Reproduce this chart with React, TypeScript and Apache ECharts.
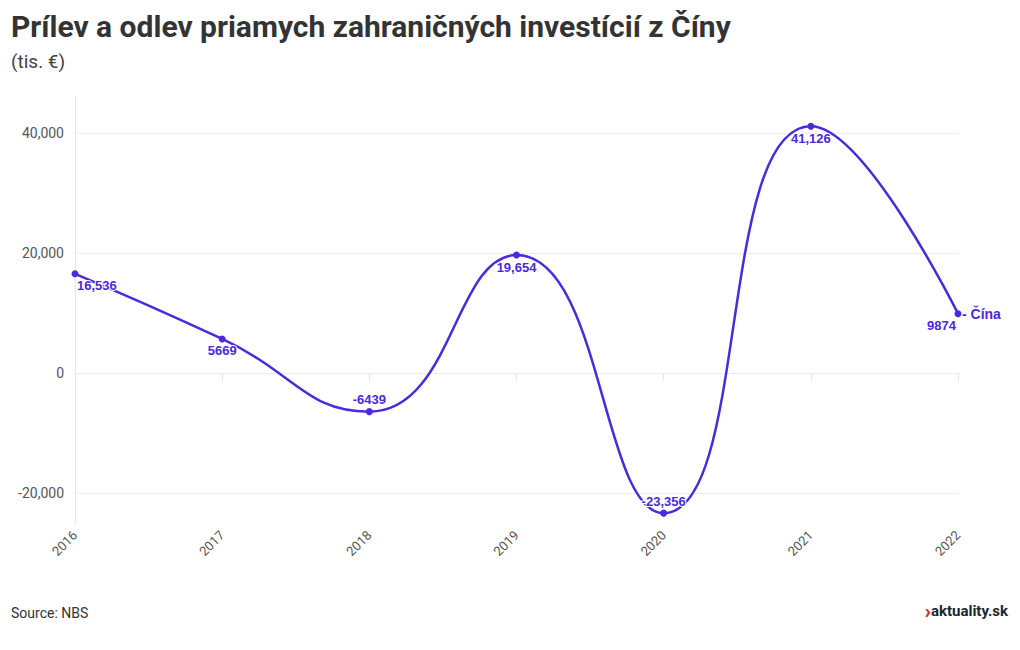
import React, { useEffect, useRef } from "react";
import * as echarts from "echarts";

const years = ["2016", "2017", "2018", "2019", "2020", "2021", "2022"];
const values = [16536, 5669, -6439, 19654, -23356, 41126, 9874];
const labelPositions = ["bottom", "bottom", "top", "bottom", "top", "bottom", "bottom"];
const labelAligns = ["left", "center", "center", "center", "center", "center", "right"];
const yTicks = [-20000, 0, 20000, 40000];
const seriesName = "Čína";

const COLOR = "#4a2adb";

export default function App() {
  const ref = useRef<HTMLDivElement>(null);
  useEffect(() => {
    document.body.style.margin = "0";
    const chart = echarts.init(ref.current!, null, { renderer: "svg" });
    const fmt = (v: number) => (Math.abs(v) >= 10000 ? v.toLocaleString("en-US") : String(v));
    chart.setOption({
      animation: false,
      backgroundColor: "#ffffff",
      title: [
        {
          text: "Prílev a odlev priamych zahraničných investícií z Číny",
          left: 6,
          top: 6,
          padding: 5,
          textStyle: { fontFamily: "Roboto", fontWeight: 700, fontSize: 30, color: "#333333" },
        },
        {
          text: "(tis. €)",
          left: 6,
          top: 47,
          padding: 5,
          textStyle: { fontFamily: "Roboto", fontWeight: 400, fontSize: 19, color: "#444444" },
        },
      ],
      grid: { left: 75, right: 62, top: 97, bottom: 127, containLabel: false },
      xAxis: {
        type: "category",
        data: years,
        boundaryGap: false,
        axisLine: { show: true, lineStyle: { color: "#e6e6e6" } },
        axisTick: { show: true, length: 8, lineStyle: { color: "#e6e6e6" } },
        axisLabel: { rotate: 45, fontSize: 13, color: "#555555", fontFamily: "Roboto", margin: 10 },
        splitLine: { show: false },
      },
      yAxis: {
        type: "value",
        min: -25000,
        max: 46000,
        axisLine: { show: true, lineStyle: { color: "#e6e6e6" } },
        axisTick: { show: false },
        splitLine: { show: false },
        axisLabel: {
          customValues: yTicks,
          fontSize: 14,
          color: "#555555",
          fontFamily: "Roboto",
          margin: 11,
          formatter: (v: number) => v.toLocaleString("en-US"),
        },
      },
      series: [
        {
          name: seriesName,
          type: "line",
          smooth: 0.5,
          data: values.map((v, i) => ({
            value: v,
            label: {
              position: labelPositions[i],
              align: labelAligns[i],
              offset: labelAligns[i] === "left" ? [2, 0] : labelAligns[i] === "right" ? [-2, 0] : [0, 0],
            },
          })),
          symbol: "circle",
          symbolSize: 7,
          itemStyle: { color: COLOR },
          lineStyle: { color: COLOR, width: 2.5 },
          label: {
            show: true,
            color: COLOR,
            fontSize: 13,
            fontWeight: 700,
            fontFamily: "Liberation Sans",
            textBorderColor: "#ffffff",
            textBorderWidth: 2,
            distance: 2,
            formatter: (p: any) => fmt(p.value),
          },
          endLabel: {
            show: true,
            formatter: "- " + seriesName,
            color: COLOR,
            fontSize: 14,
            fontWeight: 700,
            fontFamily: "Liberation Sans",
            distance: 4,
          },
          markLine: {
            silent: true,
            symbol: "none",
            label: { show: false },
            lineStyle: { color: "#ececec", type: "solid", width: 1 },
            data: yTicks.map((t) => ({ yAxis: t })),
            z: 1,
          },
        },
      ],
      graphic: [
        {
          type: "text",
          x: 11,
          y: 613,
          style: {
            text: "Source: NBS",
            fontSize: 14,
            fill: "#333333",
            fontFamily: "Roboto",
            verticalAlign: "middle",
          },
        },
        {
          type: "text",
          x: 1008,
          y: 611,
          style: {
            text: "{a|›}{b|aktuality.sk}",
            align: "right",
            verticalAlign: "middle",
            rich: {
              a: { fontSize: 20, fontWeight: 900, fill: "#e21f26", fontFamily: "Roboto" },
              b: { fontSize: 15, fontWeight: 700, fill: "#1c2530", fontFamily: "Roboto" },
            },
          },
        },
      ],
    });
    return () => chart.dispose();
  }, []);
  return <div ref={ref} style={{ width: 1020, height: 650 }} />;
}
